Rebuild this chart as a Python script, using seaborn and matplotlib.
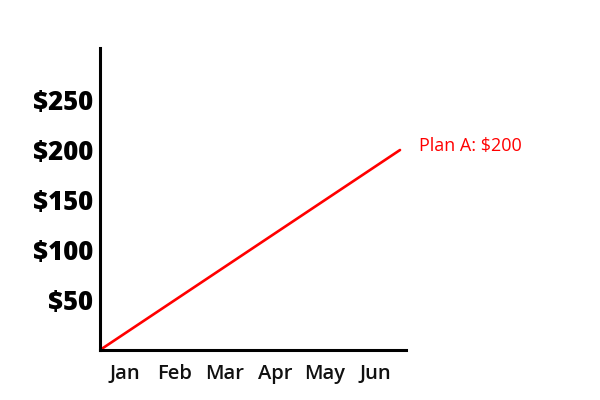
import matplotlib
matplotlib.use("Agg")
import matplotlib.pyplot as plt
import seaborn as sns
import pandas as pd

months = ["Jan", "Feb", "Mar", "Apr", "May", "Jun"]
y_ticks = [50, 100, 150, 200, 250]
y_tick_labels = ["$50", "$100", "$150", "$200", "$250"]
plan_x = [0, 6]          # start of Jan to end of Jun
plan_values = [0, 200]
plan_label = "Plan A: $200"

sns.set_theme(style="white")
plt.rcParams['font.family'] = ['Open Sans', 'DejaVu Sans']

fig = plt.figure(figsize=(6, 4), dpi=100)
ax = fig.add_axes([100/600, 50/400, 306/600, 302/400])

df = pd.DataFrame({"x": plan_x, "value": plan_values})
sns.lineplot(data=df, x="x", y="value", color="#ff0000", linewidth=1.9, ax=ax)

ax.set_xlim(0, 6.12)
ax.set_ylim(0, 302)
ax.set_xticks([i + 0.5 for i in range(len(months))])
ax.set_xticklabels(months, fontsize=14.5, fontweight="semibold", color="#111111")
ax.set_yticks(y_ticks)
ax.set_yticklabels(y_tick_labels, fontsize=18.5, fontweight="heavy", color="black")
ax.tick_params(axis="both", length=0)
ax.tick_params(axis="x", pad=10)
ax.tick_params(axis="y", pad=5)
ax.set_xlabel("")
ax.set_ylabel("")

for s in ["top", "right"]:
    ax.spines[s].set_visible(False)
for s in ["left", "bottom"]:
    ax.spines[s].set_color("black")
    ax.spines[s].set_linewidth(2.2)

ax.annotate(plan_label, xy=(plan_x[-1], plan_values[-1]), xytext=(14, 3),
            textcoords="offset points", color="#ff0000", fontsize=13,
            va="center", ha="left", annotation_clip=False)

fig.savefig("out.png", dpi=100)
